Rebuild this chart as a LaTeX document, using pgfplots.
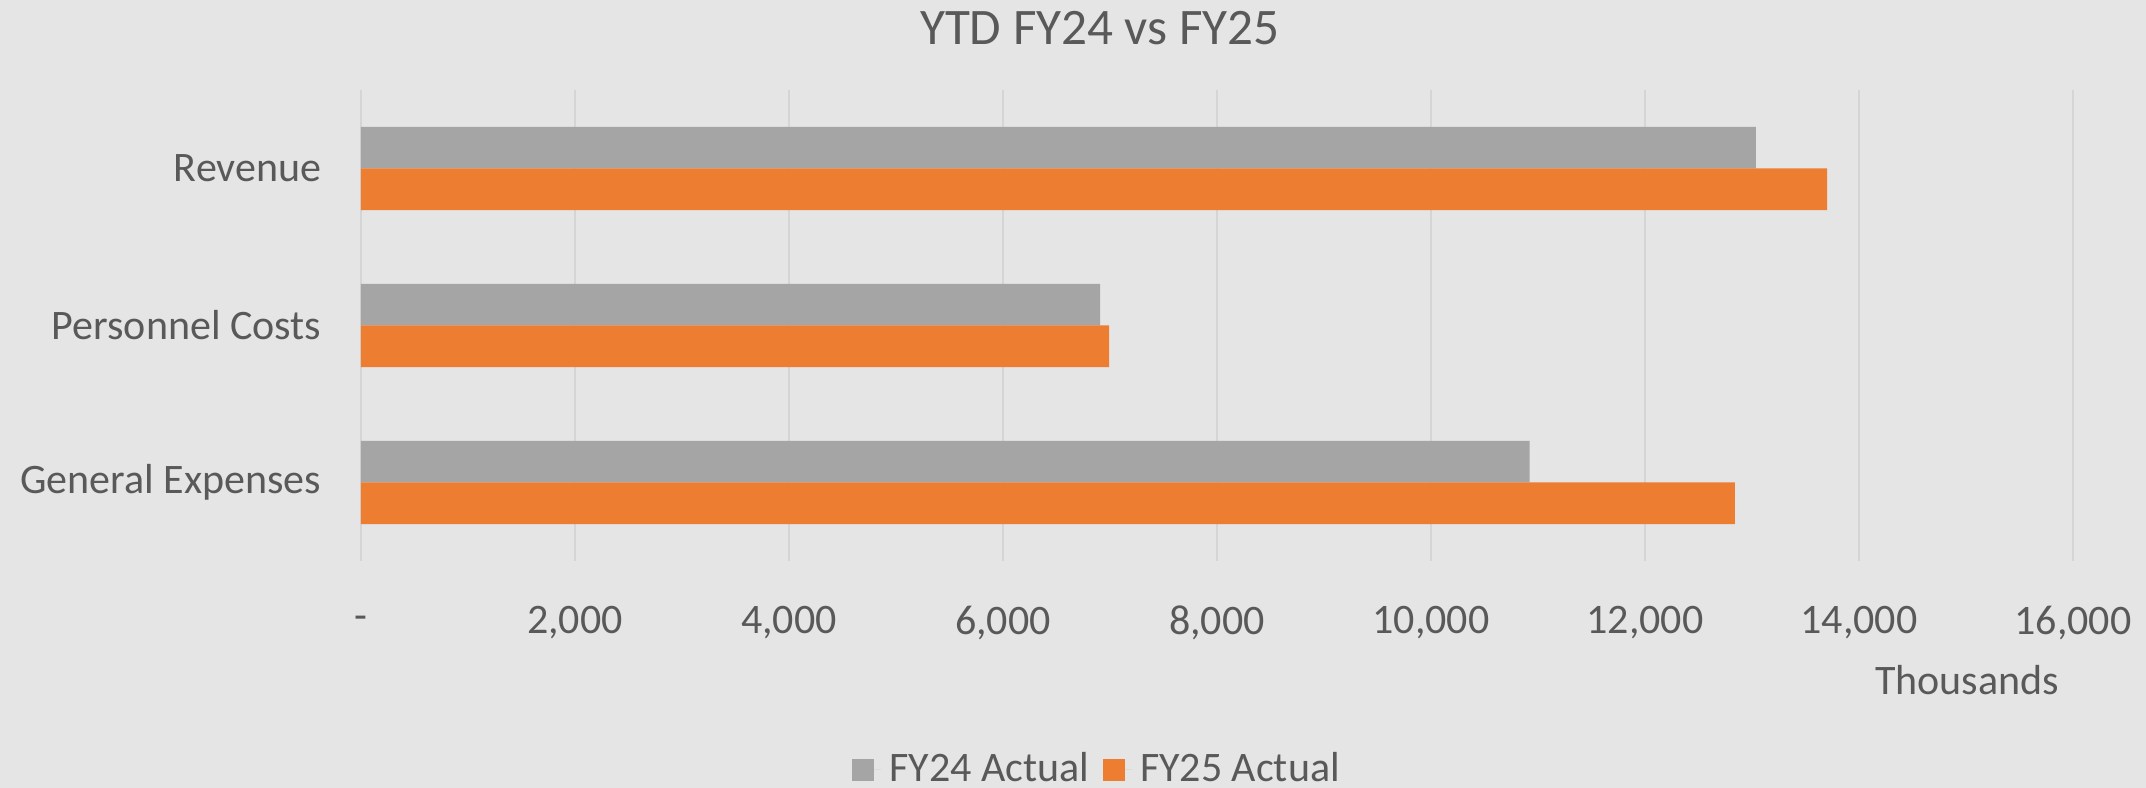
\documentclass[border=0pt]{standalone}
\usepackage{pgfplots}
\pgfplotsset{compat=1.18}
\usepackage{fontspec}
\setmainfont{Carlito}
\definecolor{bg}{HTML}{E5E5E5}
\definecolor{txt}{HTML}{595959}
\definecolor{gridc}{HTML}{D5D5D5}
\definecolor{fygray}{HTML}{A5A5A5}
\definecolor{fyorange}{HTML}{ED7D31}
\begin{document}
\begin{tikzpicture}
\useasboundingbox (0,0) rectangle (536.5pt,197pt);
\fill[bg] (0,0) rectangle (536.5pt,197pt);
\begin{axis}[
  scale only axis,
  width=428pt, height=117.75pt,
  at={(90.25pt,56.75pt)}, anchor=south west,
  xbar, bar width=10.4pt,
  xmin=0, xmax=16000,
  ymin=-0.5, ymax=2.5, y dir=reverse,
  scaled x ticks=false,
  ytick={0,1,2},
  yticklabels={Revenue,Personnel Costs,General Expenses},
  xtick={0,2000,4000,6000,8000,10000,12000,14000,16000},
  xticklabels={{-},{2,000},{4,000},{6,000},{8,000},{10,000},{12,000},{14,000},{16,000}},
  xmajorgrids, grid style={draw=gridc, line width=0.5pt},
  axis line style={draw=none},
  major tick length=0pt,
  tick label style={font=\fontsize{10.5pt}{12pt}\selectfont, text=txt},
  xticklabel style={anchor=center, yshift=-15.5pt},
  yticklabel style={anchor=east, inner sep=0pt, xshift=-9.75pt},
  legend style={at={(0.4317,-0.4430)}, anchor=center, legend columns=2, draw=none, fill=none,
    font=\fontsize{10.5pt}{12pt}\selectfont, text=txt,
    /tikz/every even column/.append style={column sep=1.5pt}},
  legend image code/.code={\fill[#1] (0pt,-2.75pt) rectangle (5.5pt,2.75pt); \path (0pt,0pt) -- (7.25pt,0pt);},
]
\addplot[fill=fygray, draw=none, bar shift=5.2pt] coordinates {(13037,0) (6907,1) (10922,2)};
\addplot[fill=fyorange, draw=none, bar shift=-5.2pt] coordinates {(13701,0) (6991,1) (12840,2)};
\legend{FY24 Actual, FY25 Actual}
\end{axis}
\node[text=txt, font=\fontsize{12.8pt}{15pt}\selectfont] at (275pt,190pt) {YTD FY24 vs FY25};
\node[text=txt, font=\fontsize{10.5pt}{12pt}\selectfont] at (491.75pt,27pt) {Thousands};
\end{tikzpicture}
\end{document}
